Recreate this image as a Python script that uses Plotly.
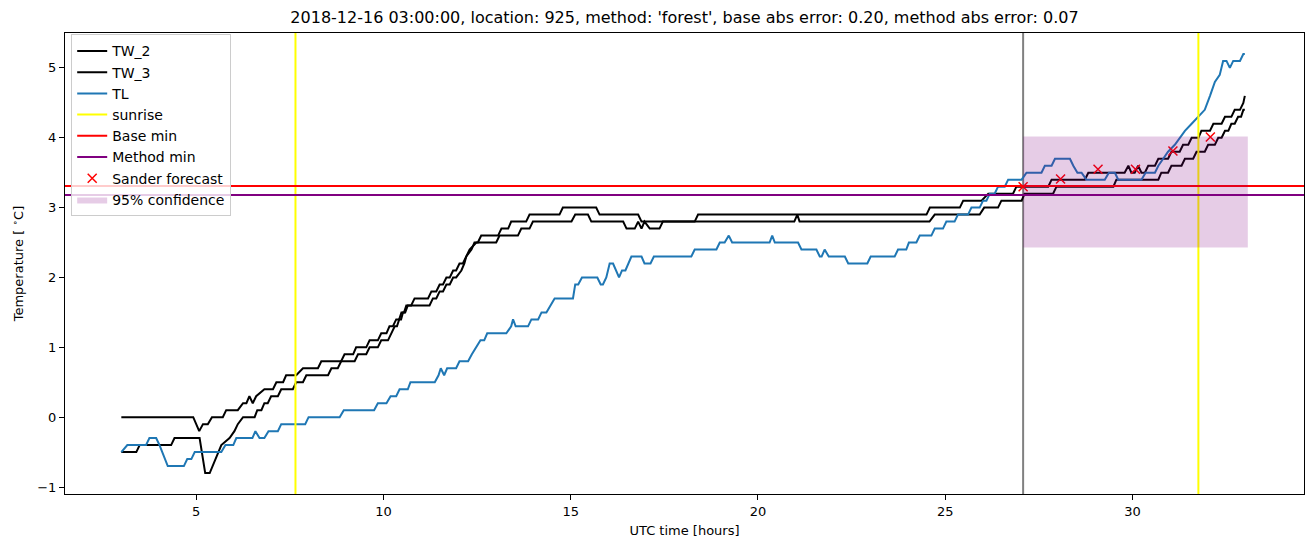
import plotly.graph_objects as go

# ---------------- data ----------------
tw2_t = [3.0, 4.92, 5.08, 5.18, 5.31, 5.42, 5.71, 5.80, 6.11, 6.25, 6.34, 6.42, 6.51, 6.60, 6.82,
         7.05, 7.14, 7.32, 7.40, 7.67, 7.85, 8.25, 8.34, 8.87, 8.96, 9.19, 9.27, 9.54, 9.63, 9.85,
         9.94, 10.08, 10.16, 10.25, 10.34, 10.42, 10.48, 10.55, 10.61, 10.74, 10.83, 11.19, 11.28,
         11.41, 11.50, 11.59, 11.68, 11.77, 11.86, 11.94, 12.03, 12.12, 12.21, 12.35, 12.43, 12.52,
         12.61, 13.06, 13.15, 13.33, 13.41, 13.81, 13.90, 14.70, 14.79, 15.68, 15.77, 16.80, 16.89,
         18.31, 18.40, 24.50, 24.59, 25.39, 25.48, 25.97, 26.15, 26.81, 26.90, 27.75, 27.84, 28.73,
         28.82, 29.79, 29.89, 29.97, 30.06, 30.15, 30.24, 30.33, 30.42, 30.60, 30.69, 30.95, 31.04,
         31.26, 31.35, 31.49, 31.58, 31.76, 31.84, 32.07, 32.16, 32.38, 32.47, 32.64, 32.73, 32.87,
         32.96, 33.0]
tw2_v = [0.0, 0.0, -0.2, -0.1, -0.1, 0.0, 0.0, 0.1, 0.1, 0.2, 0.2, 0.3, 0.2, 0.3, 0.4,
         0.4, 0.5, 0.5, 0.6, 0.6, 0.7, 0.7, 0.8, 0.8, 0.9, 0.9, 1.0, 1.0, 1.1, 1.1,
         1.2, 1.2, 1.3, 1.3, 1.4, 1.4, 1.5, 1.5, 1.6, 1.6, 1.7, 1.7, 1.8,
         1.8, 1.9, 1.9, 2.0, 2.0, 2.1, 2.1, 2.2, 2.2, 2.3, 2.4, 2.5, 2.5,
         2.6, 2.6, 2.7, 2.7, 2.8, 2.8, 2.9, 2.9, 3.0, 3.0, 2.9, 2.9, 2.8,
         2.8, 2.9, 2.9, 3.0, 3.0, 3.1, 3.1, 3.2, 3.2, 3.3, 3.3, 3.4, 3.4,
         3.5, 3.5, 3.6, 3.5, 3.5, 3.6, 3.5, 3.5, 3.6, 3.6, 3.7, 3.7, 3.8,
         3.8, 3.9, 3.9, 4.0, 4.0, 4.1, 4.1, 4.2, 4.2, 4.3, 4.3, 4.4, 4.4,
         4.5, 4.6]

tw3_t = [3.0, 3.40, 3.49, 4.33, 4.42, 5.09, 5.24, 5.36, 5.67, 5.89, 6.02, 6.11, 6.25, 6.56, 6.63,
         6.74, 6.82, 6.91, 7.00, 7.18, 7.27, 7.58, 7.67, 7.85, 7.94, 8.52, 8.61, 8.78, 8.87, 9.23,
         9.32, 9.54, 9.63, 9.85, 9.94, 10.12, 10.21, 10.30, 10.36, 10.42, 10.47, 10.52, 10.58,
         10.65, 11.23, 11.32, 11.41, 11.50, 11.59, 11.68, 11.77, 11.86, 11.94, 12.08, 12.16, 12.21,
         12.30, 12.48, 13.01, 13.10, 13.59, 13.68, 13.90, 13.99, 15.02, 15.12, 15.46, 15.55, 16.40,
         16.49, 16.71, 16.80, 16.89, 16.97, 17.11, 17.37, 17.46, 20.97, 21.05, 21.11, 24.58, 24.72,
         25.92, 26.04, 26.41, 26.50, 27.04, 27.12, 27.88, 27.97, 29.49, 29.57, 30.69, 30.77, 30.95,
         31.04, 31.31, 31.40, 31.62, 31.71, 31.93, 32.02, 32.20, 32.29, 32.38, 32.47, 32.56, 32.64,
         32.73, 32.82, 32.90, 32.96, 33.0]
tw3_v = [-0.5, -0.5, -0.4, -0.4, -0.3, -0.3, -0.8, -0.8, -0.4, -0.3, -0.2, -0.1, 0.0, 0.0, 0.1,
         0.1, 0.2, 0.2, 0.3, 0.3, 0.4, 0.4, 0.5, 0.5, 0.6, 0.6, 0.7, 0.7, 0.8, 0.8,
         0.9, 0.9, 1.0, 1.0, 1.1, 1.1, 1.2, 1.3, 1.3, 1.4, 1.4, 1.5, 1.5,
         1.6, 1.6, 1.7, 1.7, 1.8, 1.8, 1.9, 1.9, 2.0, 2.0, 2.1, 2.2, 2.3,
         2.4, 2.5, 2.5, 2.6, 2.6, 2.7, 2.7, 2.8, 2.8, 2.9, 2.9, 2.8, 2.8,
         2.7, 2.7, 2.8, 2.7, 2.8, 2.7, 2.7, 2.8, 2.8, 2.9, 2.8, 2.8, 2.9,
         2.9, 3.0, 3.0, 3.1, 3.1, 3.2, 3.2, 3.3, 3.3, 3.4, 3.4, 3.5, 3.5,
         3.6, 3.6, 3.7, 3.7, 3.8, 3.8, 3.9, 3.9, 4.0, 4.0, 4.1, 4.1, 4.2,
         4.2, 4.3, 4.3, 4.4, 4.4]

tl_t = [3.0, 3.16, 3.66, 3.75, 3.93, 4.02, 4.24, 4.67, 4.76, 4.87, 4.96, 5.67, 5.78, 5.99, 6.07,
        6.50, 6.58, 6.69, 6.82, 6.93, 7.18, 7.27, 7.91, 8.00, 8.83, 8.94, 9.75, 9.85, 10.08, 10.19,
        10.34, 10.43, 10.65, 10.72, 11.37, 11.47, 11.53, 11.62, 11.70, 11.94, 12.03, 12.26, 12.36,
        12.48, 12.59, 12.69, 12.77, 13.28, 13.41, 13.46, 13.53, 13.86, 13.95, 14.13, 14.22, 14.35,
        14.46, 14.57, 15.06, 15.12, 15.20, 15.30, 15.71, 15.80, 15.86, 15.95, 16.04, 16.13, 16.29,
        16.37, 16.46, 16.62, 16.89, 16.97, 17.13, 17.22, 18.22, 18.31, 18.89, 18.98, 19.11, 19.22,
        19.31, 20.31, 20.38, 20.45, 21.07, 21.16, 21.56, 21.65, 21.70, 21.78, 21.89, 22.32, 22.41,
        22.92, 23.01, 23.65, 23.74, 23.96, 24.03, 24.23, 24.32, 24.63, 24.72, 24.94, 25.03, 25.25,
        25.34, 25.61, 25.70, 25.92, 26.01, 26.10, 26.19, 26.32, 26.41, 26.59, 26.68, 27.04, 27.17,
        27.57, 27.66, 27.84, 27.93, 28.33, 28.42, 28.53, 28.64, 28.77, 29.26, 29.37, 29.53, 29.62,
        30.24, 30.35, 30.60, 30.69, 30.82, 30.95, 31.13, 31.26, 31.40, 31.58, 31.76, 31.93, 32.07,
        32.20, 32.33, 32.42, 32.51, 32.60, 32.69, 32.87, 32.96, 33.0]
tl_v = [-0.5, -0.4, -0.4, -0.3, -0.3, -0.4, -0.7, -0.7, -0.6, -0.6, -0.5, -0.5, -0.4, -0.4, -0.3,
        -0.3, -0.2, -0.3, -0.3, -0.2, -0.2, -0.1, -0.1, 0.0, 0.0, 0.1, 0.1, 0.2, 0.2, 0.3,
        0.3, 0.4, 0.4, 0.5, 0.5, 0.6, 0.7, 0.6, 0.7, 0.7, 0.8, 0.8, 0.9,
        1.0, 1.1, 1.1, 1.2, 1.2, 1.3, 1.4, 1.3, 1.3, 1.4, 1.4, 1.5, 1.5,
        1.6, 1.7, 1.7, 1.9, 1.9, 2.0, 2.0, 1.9, 1.9, 2.0, 2.2, 2.2, 2.0,
        2.1, 2.1, 2.3, 2.3, 2.2, 2.2, 2.3, 2.3, 2.4, 2.4, 2.5, 2.5, 2.6,
        2.5, 2.5, 2.6, 2.5, 2.5, 2.4, 2.4, 2.3, 2.3, 2.4, 2.3, 2.3, 2.2,
        2.2, 2.3, 2.3, 2.4, 2.4, 2.5, 2.5, 2.6, 2.6, 2.7, 2.7, 2.8, 2.8,
        2.9, 2.9, 3.0, 3.0, 3.1, 3.1, 3.2, 3.2, 3.3, 3.3, 3.4, 3.4, 3.5,
        3.5, 3.6, 3.6, 3.7, 3.7, 3.6, 3.5, 3.5, 3.4, 3.4, 3.5, 3.5, 3.4,
        3.4, 3.5, 3.5, 3.6, 3.7, 3.8, 3.9, 4.0, 4.1, 4.2, 4.3, 4.4, 4.6,
        4.8, 4.9, 5.1, 5.1, 5.0, 5.1, 5.1, 5.2, 5.2]

sunrise_t = [7.65, 31.76]
now_t = 27.08
base_min = 3.31
method_min = 3.18
forecast_t = [27.08, 28.08, 29.08, 30.08, 31.08, 32.08]
forecast_v = [3.30, 3.41, 3.55, 3.55, 3.81, 4.01]
conf_t = [27.08, 33.08]
conf_lo = 2.43
conf_hi = 4.02

x_ticks = [5, 10, 15, 20, 25, 30]
y_ticks = [-1, 0, 1, 2, 3, 4, 5]
x_range = [1.496, 34.58]
y_range = [-1.1, 5.5]

title = ("2018-12-16 03:00:00, location: 925, method: 'forest', "
         "base abs error: 0.20, method abs error: 0.07")

# ---------------- figure ----------------
fig = go.Figure()
FONT = "DejaVu Sans, sans-serif"
LW = 2

fig.add_trace(go.Scatter(x=[now_t, now_t], y=y_range, mode="lines",
                         line=dict(color="#808080", width=LW), showlegend=False,
                         hoverinfo="skip"))
fig.add_trace(go.Scatter(x=tw2_t, y=tw2_v, mode="lines", name="TW_2",
                         line=dict(color="black", width=LW)))
fig.add_trace(go.Scatter(x=tw3_t, y=tw3_v, mode="lines", name="TW_3",
                         line=dict(color="black", width=LW)))
fig.add_trace(go.Scatter(x=tl_t, y=tl_v, mode="lines", name="TL",
                         line=dict(color="#1f77b4", width=LW)))
sx, sy = [], []
for s in sunrise_t:
    sx += [s, s, None]
    sy += [y_range[0], y_range[1], None]
fig.add_trace(go.Scatter(x=sx, y=sy, mode="lines", name="sunrise",
                         line=dict(color="#ffff00", width=LW)))
fig.add_trace(go.Scatter(x=x_range, y=[base_min, base_min], mode="lines", name="Base min",
                         line=dict(color="#ff0000", width=LW)))
fig.add_trace(go.Scatter(x=x_range, y=[method_min, method_min], mode="lines",
                         name="Method min", line=dict(color="#800080", width=LW)))
fig.add_trace(go.Scatter(x=forecast_t, y=forecast_v, mode="markers", name="Sander forecast",
                         marker=dict(symbol="x-thin", size=9, color="#ff0000",
                                     line=dict(color="#ff0000", width=1.5))))
fig.add_trace(go.Scatter(x=[conf_t[0], conf_t[1], conf_t[1], conf_t[0], conf_t[0]],
                         y=[conf_lo, conf_lo, conf_hi, conf_hi, conf_lo],
                         mode="lines", fill="toself", name="95% confidence",
                         fillcolor="rgba(128,0,128,0.2)",
                         line=dict(width=0, color="rgba(128,0,128,0)")))

axis_common = dict(showgrid=False, zeroline=False, showline=True, linecolor="black",
                   linewidth=1, mirror=True, ticks="outside", ticklen=5, tickwidth=1,
                   tickcolor="black", tickfont=dict(family=FONT, size=13, color="black"))

fig.update_layout(
    width=1313, height=547,
    margin=dict(l=65, r=9, t=33, b=53),
    paper_bgcolor="white", plot_bgcolor="white",
    font=dict(family=FONT, color="black"),
    title=dict(text=title, x=0.5, xref="paper", xanchor="center",
               y=1 - 17 / 547, yref="container", yanchor="middle",
               font=dict(family=FONT, size=16, color="black")),
    xaxis=dict(range=x_range, tickvals=x_ticks,
               title=dict(text="UTC time [hours]", standoff=8,
                          font=dict(family=FONT, size=13, color="black")),
               **axis_common),
    yaxis=dict(range=y_range, tickvals=y_ticks,
               title=dict(text="Temperature [ <sup>∘</sup>C]", standoff=10,
                          font=dict(family=FONT, size=13, color="black")),
               **axis_common),
    legend=dict(x=0.005, y=0.997, xanchor="left", yanchor="top",
                bgcolor="rgba(255,255,255,0.8)", bordercolor="#cccccc", borderwidth=1,
                font=dict(family=FONT, size=14, color="black"),
                tracegroupgap=0, itemwidth=30),
    showlegend=True,
)

fig.write_html("out.html")
